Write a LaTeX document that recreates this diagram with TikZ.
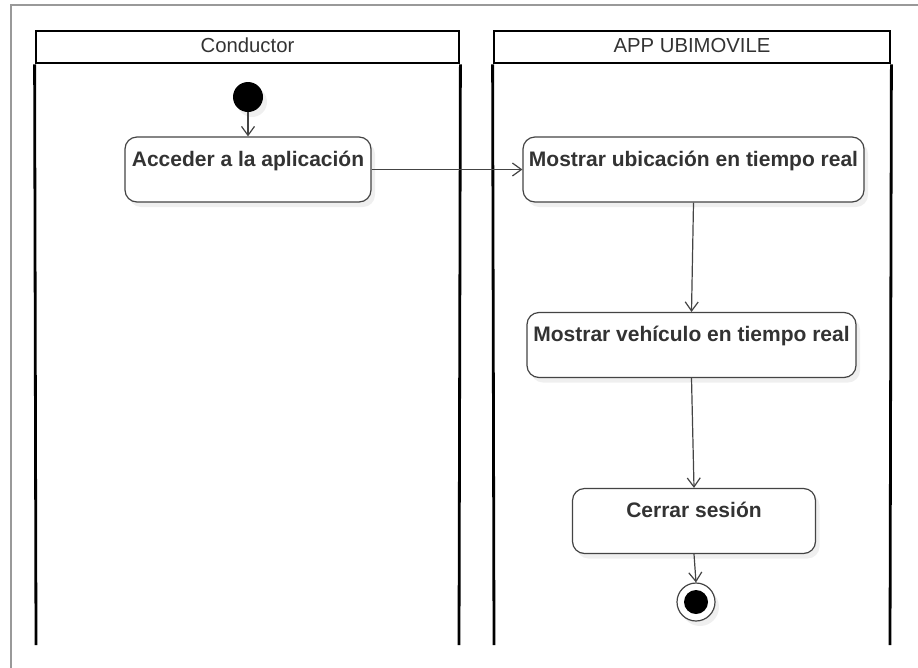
\documentclass[tikz,border=0pt]{standalone}
\usepackage{fontspec}
\setmainfont{Liberation Sans}
\usetikzlibrary{arrows.meta,shadows}
\definecolor{txt}{HTML}{333333}
\definecolor{edge}{HTML}{444444}
\definecolor{frame}{HTML}{999999}
\tikzset{
  act/.style={draw=edge, line width=1.2pt, rounded corners=12pt, fill=white,
    font=\fontsize{21}{24}\selectfont\bfseries, text=txt,
    text height=16pt, text depth=23pt, inner xsep=2pt, inner ysep=0pt,
    minimum height=65pt,
    drop shadow={opacity=0.12, shadow xshift=4pt, shadow yshift=-5pt}},
  lanehead/.style={draw=black, line width=2.8pt, fill=white, minimum height=32pt,
    inner sep=0pt, text height=15pt, text depth=5pt,
    font=\fontsize{20.3}{23}\selectfont, text=txt},
  laneline/.style={draw=black, line width=2.8pt},
  flow/.style={draw=edge, line width=1.2pt, -{Straight Barb[length=9pt,width=13pt,line width=1.2pt]}},
  startdot/.style={circle, fill=black, minimum size=30pt, inner sep=0pt,
    drop shadow={opacity=0.12, shadow xshift=4pt, shadow yshift=-5pt}},
  endring/.style={circle, draw=edge, line width=1.2pt, fill=white, minimum size=38pt, inner sep=0pt,
    drop shadow={opacity=0.12, shadow xshift=4pt, shadow yshift=-5pt}},
  enddot/.style={circle, fill=black, minimum size=24pt, inner sep=0pt}
}
\begin{document}
\begin{tikzpicture}[x=1pt,y=-1pt]
\useasboundingbox (0,0) rectangle (918,667);
\fill[white] (0,0) rectangle (918,667);
% outer frame
\draw[frame, line width=2pt] (11,680) -- (11,5) -- (930,5);
% lanes
\node[lanehead, minimum width=423pt] (h1) at (247.5,47) {Conductor};
\node[lanehead, minimum width=396pt] (h2) at (692,47) {APP UBIMOVILE};
\coordinate (l1a) at (36,645);
\coordinate (l1b) at (459,645);
\coordinate (l2a) at (494,645);
\coordinate (l2b) at (890,645);
\draw[laneline] (h1.south west) -- (l1a);
\draw[laneline] (h1.south east) -- (l1b);
\draw[laneline] (h2.south west) -- (l2a);
\draw[laneline] (h2.south east) -- (l2b);
% nodes
\node[startdot] (s) at (248,97) {};
\node[act, minimum width=246pt] (a1) at (248,169.5) {Acceder a la aplicación};
\node[act, minimum width=341pt] (a2) at (693.5,169.5) {Mostrar ubicación en tiempo real};
\node[act, minimum width=329pt] (a3) at (691.5,345) {Mostrar vehículo en tiempo real};
\node[act, minimum width=243pt] (a4) at (694,521) {Cerrar sesión};
\node[endring] (e) at (696,602) {};
\node[enddot] at (e.center) {};
% flows
\draw[flow] (s) -- (a1);
\draw[flow] (a1) -- (a2);
\draw[flow] (a2.south) -- (a3.north);
\draw[flow] (a3.south) -- (a4.north);
\draw[flow] (a4.south) -- (e.north);
\end{tikzpicture}
\end{document}
